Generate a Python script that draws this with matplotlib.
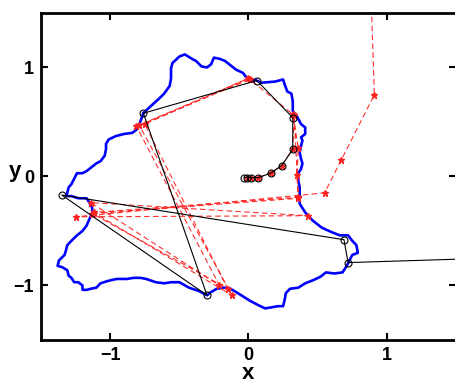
import matplotlib
matplotlib.use('Agg')
import matplotlib.pyplot as plt

# boundary of the domain
blue_x = [-0.76, -0.72, -0.65, -0.61, -0.57, -0.56, -0.56, -0.55, -0.50, -0.46,
          -0.41, -0.38, -0.34, -0.30, -0.27, -0.25, -0.21, -0.17, -0.14, -0.09,
          -0.04, -0.01, 0.06, 0.09, 0.19, 0.25, 0.26, 0.28, 0.31, 0.32,
          0.32, 0.35, 0.38, 0.41, 0.41, 0.38, 0.39, 0.38, 0.37, 0.38,
          0.39, 0.38, 0.36, 0.36, 0.37, 0.37, 0.37, 0.41, 0.46, 0.53,
          0.60, 0.66, 0.72, 0.75, 0.78, 0.79, 0.75, 0.73, 0.71, 0.68,
          0.62, 0.56, 0.52, 0.47, 0.41, 0.36, 0.30, 0.27, 0.26, 0.25,
          0.21, 0.17, 0.12, 0.07, 0.01, -0.04, -0.09, -0.13, -0.18, -0.23,
          -0.27, -0.30, -0.36, -0.43, -0.50, -0.56, -0.61, -0.67, -0.74, -0.78,
          -0.83, -0.88, -0.95, -0.99, -1.02, -1.07, -1.10, -1.14, -1.17, -1.20,
          -1.20, -1.23, -1.26, -1.28, -1.30, -1.31, -1.35, -1.38, -1.37, -1.33,
          -1.32, -1.31, -1.28, -1.24, -1.20, -1.17, -1.15, -1.13, -1.13, -1.15,
          -1.17, -1.23, -1.28, -1.32, -1.31, -1.30, -1.28, -1.26, -1.24, -1.20,
          -1.17, -1.14, -1.10, -1.07, -1.04, -1.03, -1.03, -1.01, -0.96, -0.90,
          -0.84, -0.80, -0.78, -0.76]
blue_y = [0.58, 0.63, 0.71, 0.76, 0.83, 0.90, 0.99, 1.04, 1.10, 1.12,
          1.08, 1.06, 1.01, 1.00, 1.03, 1.09, 1.08, 1.06, 1.03, 0.98,
          0.95, 0.90, 0.88, 0.86, 0.87, 0.89, 0.85, 0.78, 0.76, 0.69,
          0.60, 0.55, 0.48, 0.45, 0.39, 0.36, 0.33, 0.28, 0.22, 0.16,
          0.12, 0.07, 0.03, -0.04, -0.10, -0.18, -0.25, -0.33, -0.40, -0.47,
          -0.51, -0.54, -0.54, -0.59, -0.63, -0.70, -0.72, -0.77, -0.82, -0.88,
          -0.89, -0.88, -0.92, -0.95, -0.98, -1.02, -1.03, -1.07, -1.14, -1.19,
          -1.19, -1.20, -1.21, -1.18, -1.14, -1.10, -1.06, -1.03, -1.02, -1.03,
          -1.06, -1.09, -1.05, -1.02, -0.97, -0.97, -0.98, -0.97, -0.94, -0.93,
          -0.93, -0.94, -0.94, -0.95, -0.96, -0.98, -1.02, -1.03, -1.04, -1.04,
          -1.00, -0.97, -0.97, -0.93, -0.91, -0.86, -0.83, -0.82, -0.77, -0.72,
          -0.68, -0.63, -0.59, -0.54, -0.50, -0.45, -0.39, -0.34, -0.29, -0.24,
          -0.20, -0.20, -0.18, -0.18, -0.15, -0.10, -0.07, -0.02, 0.03, 0.03,
          0.05, 0.08, 0.12, 0.14, 0.19, 0.25, 0.30, 0.34, 0.37, 0.39,
          0.40, 0.44, 0.51, 0.58]

# black trajectory (circles)
black_x = [1.60, 0.72, 0.69, -1.35, -0.30, -0.76, 0.06, 0.32, 0.32, 0.24, 0.16, 0.07, 0.02, -0.01, -0.03]
black_y = [-0.755, -0.79, -0.58, -0.17, -1.09, 0.58, 0.88, 0.54, 0.25, 0.10, 0.03, -0.01, -0.01, -0.01, -0.01]

# red trajectory (stars)
red_x = [0.885, 0.91, 0.67, 0.55, -1.25, 0.43, -1.14, -0.21, -0.81, 0.00,
         -0.75, -0.15, -1.13, 0.36, 0.35, 0.36, 0.32, 0.01, -0.79, -0.12,
         -1.12, 0.36, 0.33, 0.32, 0.24, 0.16, 0.07, 0.02, -0.01]
red_y = [1.70, 0.75, 0.15, -0.15, -0.37, -0.36, -0.24, -1.00, 0.46, 0.90,
         0.48, -1.03, -0.34, -0.20, 0.01, 0.26, 0.57, 0.89, 0.47, -1.09,
         -0.33, -0.19, 0.56, 0.25, 0.10, 0.03, -0.01, -0.01, -0.01]

ticks = [-1, 0, 1]

plt.rcParams['font.family'] = ['Liberation Sans', 'DejaVu Sans']
plt.rcParams['font.weight'] = 'bold'

fig = plt.figure(figsize=(4.55, 3.86), dpi=100)
ax = fig.add_axes([0.0901, 0.1192, 0.9121, 0.8472])

ax.plot(blue_x, blue_y, color='#0000ff', lw=1.9, zorder=2)
ax.plot(red_x, red_y, color='#ff3030', lw=0.8, dashes=(5, 3), marker='*',
        ms=5, mec='#ff2020', mfc='#ff2020', zorder=3)
ax.plot(black_x, black_y, color='black', lw=0.8, marker='o', ms=5,
        mfc='none', mec='black', mew=0.8, zorder=4)

ax.set_xlim(-1.5, 1.5)
ax.set_ylim(-1.5, 1.5)
ax.set_xticks(ticks)
ax.set_yticks(ticks)
ax.tick_params(direction='in', length=5, width=1.5, labelsize=13,
               top=True, right=True, pad=5)
for s in ax.spines.values():
    s.set_linewidth(2)

ax.set_xlabel('x', fontsize=16, fontweight='bold', labelpad=-1)
ax.set_ylabel('y', fontsize=16, fontweight='bold', rotation=0, va='center', ha='center')
ax.yaxis.set_label_coords(-0.063, 0.515)

plt.savefig('out.png', dpi=100)
plt.close()
